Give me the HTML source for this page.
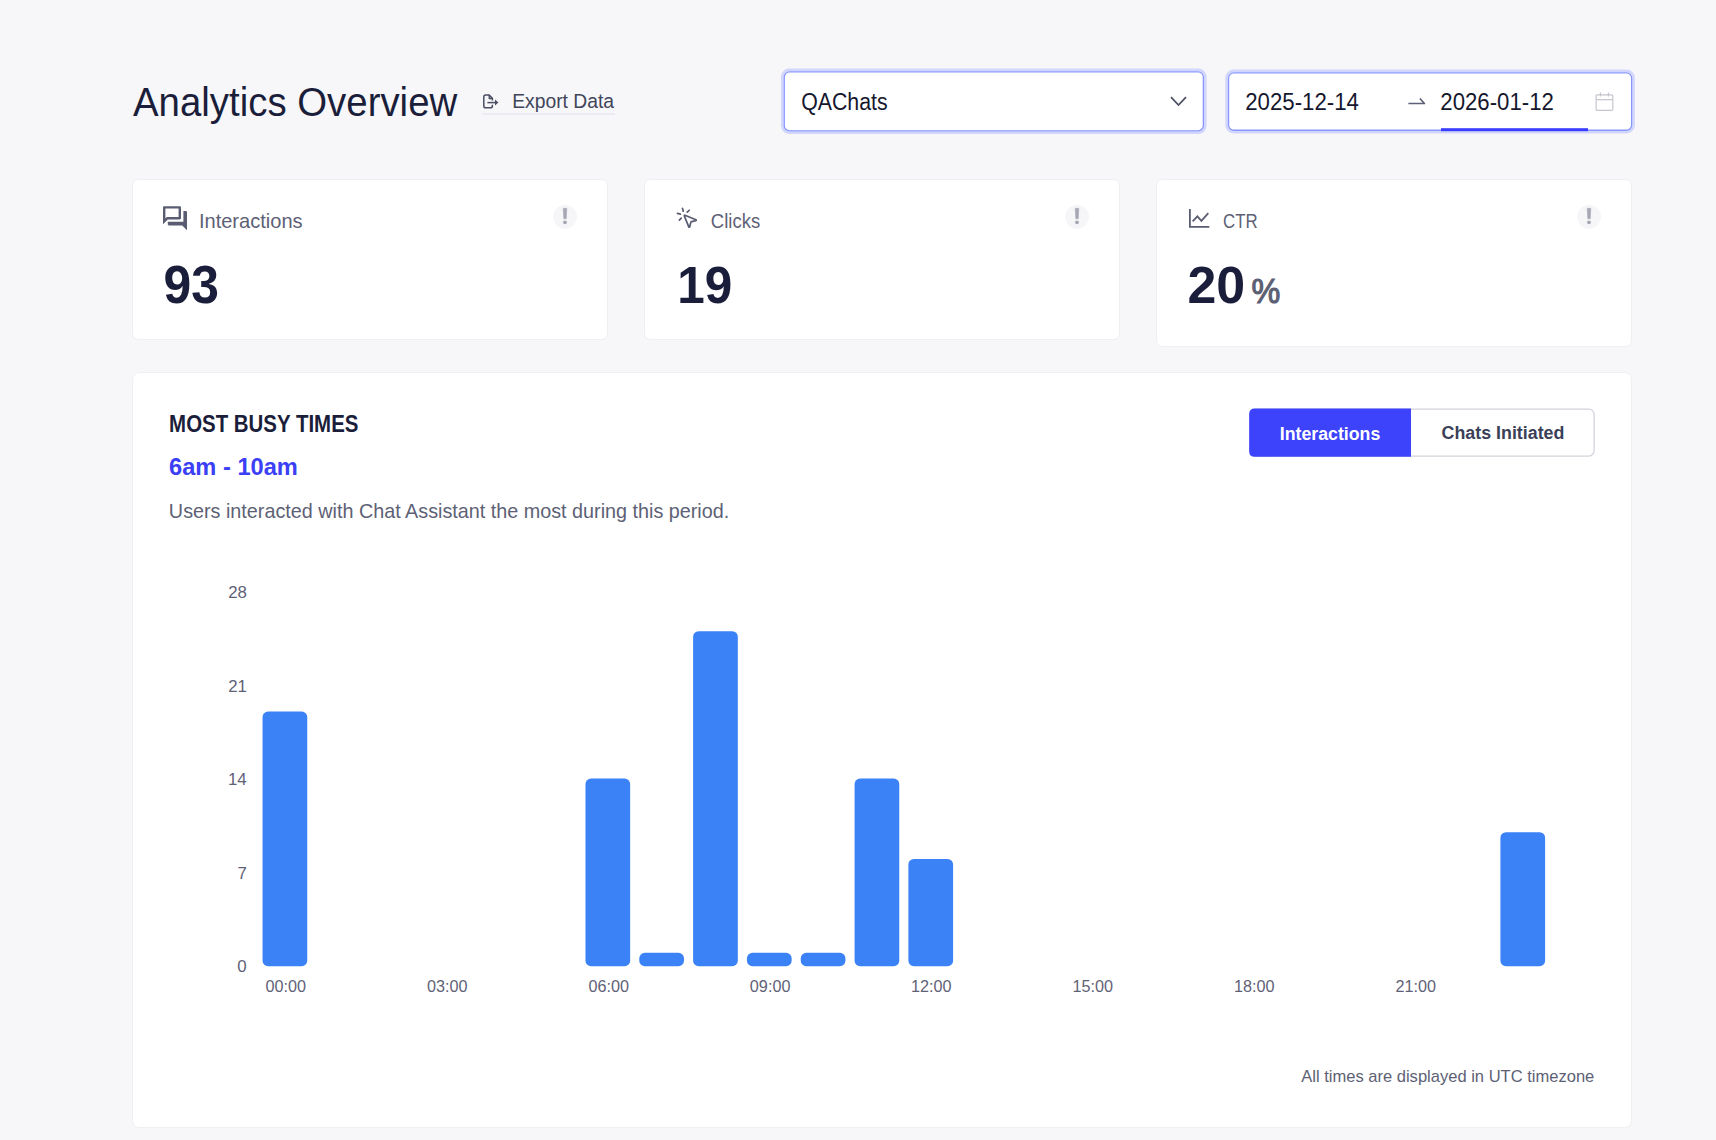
<!DOCTYPE html>
<html><head><meta charset="utf-8"><title>Analytics Overview</title>
<style>html,body{margin:0;padding:0;width:1716px;height:1140px;overflow:hidden;background:#f7f7f9;font-family:"Liberation Sans",sans-serif}</style>
</head><body>
<svg width="1716" height="1140" viewBox="0 0 1716 1140" style="position:absolute;left:0;top:0;font-family:'Liberation Sans',sans-serif">
<rect x="0" y="0" width="1716" height="1140" fill="#f7f7f9"/>
<!-- header -->
<text transform="translate(133.00 115.60) scale(0.9408 1)" font-size="40.8" font-weight="normal" fill="#1b1e3a" >Analytics Overview</text>
<g fill="none" stroke="#4a4e63" stroke-width="1.5" stroke-linejoin="round">
  <path d="M492.4 100.6 V98.4 L488.9 94.9 H485.6 Q483.8 94.9 483.8 96.7 V105.9 Q483.8 107.7 485.6 107.7 H490.6 Q492.4 107.7 492.4 105.9 V104.8"/>
  <path d="M489.2 95.2 V98.6 H492.2" stroke-width="1.3"/>
  <path d="M487.4 102.6 H495.6" stroke-width="1.5"/>
</g>
<path d="M495.0 99.6 L498.4 102.6 L495.0 105.6 Z" fill="#4a4e63"/>
<text transform="translate(512.19 107.60) scale(0.9505 1)" font-size="20.3" font-weight="normal" fill="#41455a" >Export Data</text>
<rect x="482" y="113.5" width="133" height="1" fill="#dfe0ec"/>

<!-- select -->
<rect x="782.3" y="69.9" width="423.0" height="62.9" rx="7" fill="none" stroke="#d3d6fc" stroke-width="2.6"/>
<rect x="784.25" y="71.85" width="419.1" height="59.0" rx="5.2" fill="#fff" stroke="#8797ff" stroke-width="1.3"/>
<text transform="translate(801.20 109.60) scale(0.9186 1)" font-size="23.2" font-weight="normal" fill="#14172d" >QAChats</text>
<path d="M1171.0 97.2 L1178.5 105.0 L1186.0 97.2" fill="none" stroke="#4f5266" stroke-width="1.8"/>

<!-- date range -->
<rect x="1226.6" y="70.9" width="407.0" height="61.3" rx="7" fill="none" stroke="#d3d6fc" stroke-width="2.6"/>
<rect x="1228.55" y="72.85" width="403.1" height="57.4" rx="5.2" fill="#fff" stroke="#8797ff" stroke-width="1.3"/>
<text transform="translate(1245.26 109.70) scale(0.9581 1)" font-size="23.2" font-weight="normal" fill="#14172d" >2025-12-14</text>
<path d="M1408.4 103.5 H1424.4 L1419.9 98.5" fill="none" stroke="#5e6175" stroke-width="1.7" stroke-linejoin="round"/>
<text transform="translate(1440.36 109.60) scale(0.9567 1)" font-size="23.2" font-weight="normal" fill="#14172d" >2026-01-12</text>
<rect x="1441" y="128.2" width="147" height="3" fill="#3a3cff"/>
<g fill="none" stroke="#c5c5cd" stroke-width="1.2">
  <rect x="1596.1" y="94.9" width="16.7" height="15.4" rx="1"/>
  <path d="M1596.1 99.7 H1612.8"/>
  <path d="M1600.5 92.6 V96.6 M1608.4 92.6 V96.6"/>
</g>

<!-- cards -->
<rect x="132.5" y="179.5" width="475" height="160" rx="6" fill="#fff" stroke="#efeff1" stroke-width="1"/>
<rect x="644.5" y="179.5" width="475" height="160" rx="6" fill="#fff" stroke="#efeff1" stroke-width="1"/>
<rect x="1156.5" y="179.5" width="475" height="167" rx="6" fill="#fff" stroke="#efeff1" stroke-width="1"/>

<g transform="translate(160.6 203.8) scale(1.2)"><path fill="#5a5d72" d="M15 4v7H5.17L4 12.17V4h11m1-2H3c-.55 0-1 .45-1 1v14l4-4h10c.55 0 1-.45 1-1V3c0-.55-.45-1-1-1zm5 4h-2v9H6v2c0 .55.45 1 1 1h11l4 4V7c0-.55-.45-1-1-1z"/></g>
<text transform="translate(198.93 227.60) scale(0.9785 1)" font-size="20.5" font-weight="normal" fill="#5d6175" >Interactions</text>
<text transform="translate(163.44 303.00) scale(0.9450 1)" font-size="52.7" font-weight="bold" fill="#1b1e3a" >93</text>
<circle cx="565" cy="216.7" r="12" fill="#f6f6f9"/><path d="M563.2 208.29999999999998 L566.8 208.29999999999998 L566.3 218.7 L563.7 218.7 Z" fill="#a6a7b5" stroke="#a6a7b5" stroke-width="0.5" stroke-linejoin="round"/><circle cx="565" cy="222.29999999999998" r="1.9" fill="#a6a7b5"/>

<g transform="translate(675.25 206.15)" fill="none" stroke="#5a5d72" stroke-width="1.7" stroke-linecap="round" stroke-linejoin="round"><path d="M14 4.1 12 6"/><path d="m5.1 8-2.9-.8"/><path d="m6 12-1.9 2"/><path d="M7.2 2.2 8 5.1"/><path d="M9.037 9.69a.498.498 0 0 1 .653-.653l11 4.5a.5.5 0 0 1-.074.949l-4.349 1.041a1 1 0 0 0-.74.739l-1.04 4.35a.5.5 0 0 1-.95.074z"/></g>
<text transform="translate(710.83 227.50) scale(0.9046 1)" font-size="20.5" font-weight="normal" fill="#5d6175" >Clicks</text>
<text transform="translate(677.21 302.80) scale(0.9387 1)" font-size="52.7" font-weight="bold" fill="#1b1e3a" >19</text>
<circle cx="1077" cy="216.7" r="12" fill="#f6f6f9"/><path d="M1075.2 208.29999999999998 L1078.8 208.29999999999998 L1078.3 218.7 L1075.7 218.7 Z" fill="#a6a7b5" stroke="#a6a7b5" stroke-width="0.5" stroke-linejoin="round"/><circle cx="1077" cy="222.29999999999998" r="1.9" fill="#a6a7b5"/>

<g fill="none" stroke="#5a5d72" stroke-width="1.8"><path d="M1189.9 208.9 V226.9 H1209.3"/><path d="M1192.6 221.4 L1197.4 216.3 L1201.4 220.8 L1208.3 213.2"/></g>
<text transform="translate(1223.01 227.50) scale(0.8206 1)" font-size="20.5" font-weight="normal" fill="#5d6175" >CTR</text>
<text transform="translate(1187.38 302.90) scale(0.9848 1)" font-size="52.7" font-weight="bold" fill="#1b1e3a" >20</text>
<text transform="translate(1251.59 302.60) scale(0.9380 1)" font-size="34.5" font-weight="normal" fill="#5d6175" stroke="#5a5e73" stroke-width="1.1">%</text>
<circle cx="1589" cy="216.7" r="12" fill="#f6f6f9"/><path d="M1587.2 208.29999999999998 L1590.8 208.29999999999998 L1590.3 218.7 L1587.7 218.7 Z" fill="#a6a7b5" stroke="#a6a7b5" stroke-width="0.5" stroke-linejoin="round"/><circle cx="1589" cy="222.29999999999998" r="1.9" fill="#a6a7b5"/>

<!-- big card -->
<rect x="132.5" y="372.5" width="1499" height="755" rx="7" fill="#fff" stroke="#efeff1" stroke-width="1"/>
<text transform="translate(169.12 431.60) scale(0.8814 1)" font-size="23.2" font-weight="bold" fill="#1b1e3a" >MOST BUSY TIMES</text>
<text transform="translate(169.06 475.30) scale(1.0025 1)" font-size="23.6" font-weight="bold" fill="#3b3ff5" >6am - 10am</text>
<text transform="translate(168.86 517.60) scale(0.9743 1)" font-size="20.3" font-weight="normal" fill="#5d6175" >Users interacted with Chat Assistant the most during this period.</text>

<rect x="1249.85" y="409.05" width="344.3" height="47" rx="5.5" fill="#fff" stroke="#d3d3dc" stroke-width="1.3"/>
<path d="M1254.7 408.4 H1411 V456.7 H1254.7 Q1249.2 456.7 1249.2 451.2 V413.9 Q1249.2 408.4 1254.7 408.4 Z" fill="#3d42fb"/>
<text transform="translate(1279.79 439.70) scale(0.9238 1)" font-size="19.2" font-weight="bold" fill="#ffffff" >Interactions</text>
<text transform="translate(1441.54 439.30) scale(0.9298 1)" font-size="19.2" font-weight="bold" fill="#3b3f58" >Chats Initiated</text>

<text transform="translate(228.21 598.00) scale(0.9929 1)" font-size="17.0" font-weight="normal" fill="#5f6277">28</text>
<text transform="translate(228.21 691.60) scale(0.9929 1)" font-size="17.0" font-weight="normal" fill="#5f6277">21</text>
<text transform="translate(227.95 785.20) scale(0.9929 1)" font-size="17.0" font-weight="normal" fill="#5f6277">14</text>
<text transform="translate(237.60 878.80) scale(0.9929 1)" font-size="17.0" font-weight="normal" fill="#5f6277">7</text>
<text transform="translate(237.33 972.40) scale(0.9929 1)" font-size="17.0" font-weight="normal" fill="#5f6277">0</text>
<rect x="262.55" y="711.60" width="44.7" height="254.60" rx="5.5" fill="#3b82f6"/>
<rect x="585.47" y="778.60" width="44.7" height="187.60" rx="5.5" fill="#3b82f6"/>
<rect x="639.29" y="952.80" width="44.7" height="13.40" rx="5.5" fill="#3b82f6"/>
<rect x="693.11" y="631.20" width="44.7" height="335.00" rx="5.5" fill="#3b82f6"/>
<rect x="746.93" y="952.80" width="44.7" height="13.40" rx="5.5" fill="#3b82f6"/>
<rect x="800.75" y="952.80" width="44.7" height="13.40" rx="5.5" fill="#3b82f6"/>
<rect x="854.57" y="778.60" width="44.7" height="187.60" rx="5.5" fill="#3b82f6"/>
<rect x="908.39" y="859.00" width="44.7" height="107.20" rx="5.5" fill="#3b82f6"/>
<rect x="1500.41" y="832.20" width="44.7" height="134.00" rx="5.5" fill="#3b82f6"/>
<text transform="translate(265.49 991.50) scale(0.9546 1)" font-size="17.0" font-weight="normal" fill="#5f6277">00:00</text>
<text transform="translate(426.94 991.50) scale(0.9546 1)" font-size="17.0" font-weight="normal" fill="#5f6277">03:00</text>
<text transform="translate(588.39 991.50) scale(0.9546 1)" font-size="17.0" font-weight="normal" fill="#5f6277">06:00</text>
<text transform="translate(749.84 991.50) scale(0.9546 1)" font-size="17.0" font-weight="normal" fill="#5f6277">09:00</text>
<text transform="translate(911.04 991.50) scale(0.9546 1)" font-size="17.0" font-weight="normal" fill="#5f6277">12:00</text>
<text transform="translate(1072.49 991.50) scale(0.9546 1)" font-size="17.0" font-weight="normal" fill="#5f6277">15:00</text>
<text transform="translate(1233.94 991.50) scale(0.9546 1)" font-size="17.0" font-weight="normal" fill="#5f6277">18:00</text>
<text transform="translate(1395.52 991.50) scale(0.9546 1)" font-size="17.0" font-weight="normal" fill="#5f6277">21:00</text>
<text transform="translate(1301.20 1082.40) scale(0.9624 1)" font-size="17.2" font-weight="normal" fill="#5d6175" >All times are displayed in UTC timezone</text>
</svg>
</body></html>
